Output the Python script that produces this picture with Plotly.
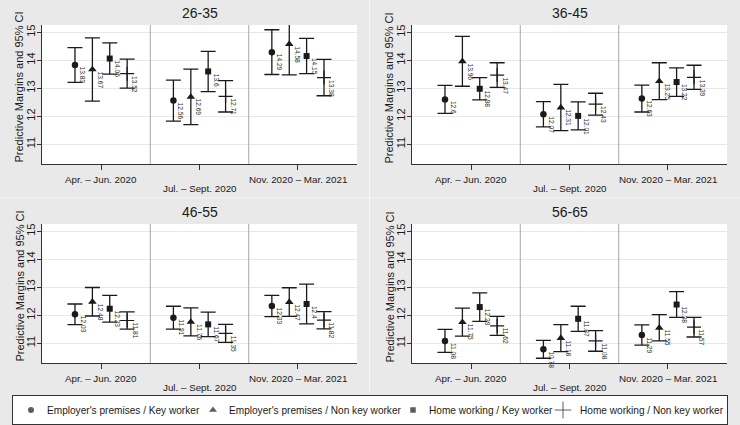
import plotly.graph_objects as go

# ---------------- data ----------------
periods = ["Apr. – Jun. 2020", "Jul. – Sept. 2020", "Nov. 2020 – Mar. 2021"]
age_groups = ["26-35", "36-45", "46-55", "56-65"]
series_names = ["Employer's premises / Key worker",
                "Employer's premises / Non key worker",
                "Home working / Key worker",
                "Home working / Non key worker"]
y_ticks = [11, 12, 13, 14, 15]

# values ordered: age group (26-35, 36-45, 46-55, 56-65) x period (Apr, Jul, Nov)
emp_key_margin = [13.83, 12.56, 14.29, 12.6, 12.07, 12.63, 12.03, 11.91, 12.33, 11.08, 10.78, 11.29]
emp_key_lo = [13.21, 11.82, 13.49, 12.10, 11.62, 12.15, 11.66, 11.50, 11.95, 10.67, 10.46, 10.93]
emp_key_hi = [14.45, 13.29, 15.09, 13.10, 12.52, 13.11, 12.40, 12.32, 12.71, 11.49, 11.10, 11.65]

emp_nonkey_margin = [13.67, 12.69, 14.58, 13.96, 12.31, 13.25, 12.48, 11.76, 12.47, 11.75, 11.18, 11.55]
emp_nonkey_lo = [12.54, 11.70, 13.48, 13.07, 11.48, 12.59, 11.97, 11.26, 11.96, 11.25, 10.70, 11.08]
emp_nonkey_hi = [14.80, 13.68, 15.68, 14.85, 13.14, 13.91, 12.99, 12.26, 12.98, 12.25, 11.66, 12.02]

home_key_margin = [14.06, 13.6, 14.15, 12.98, 12.01, 13.22, 12.23, 11.67, 12.4, 12.29, 11.87, 12.38]
home_key_lo = [13.50, 12.88, 13.52, 12.58, 11.51, 12.71, 11.75, 11.23, 11.69, 11.78, 11.42, 11.92]
home_key_hi = [14.62, 14.32, 14.78, 13.38, 12.51, 13.73, 12.71, 12.11, 13.11, 12.80, 12.32, 12.84]

home_nonkey_margin = [13.52, 12.71, 13.38, 13.47, 12.43, 13.39, 11.81, 11.35, 11.82, 11.62, 11.08, 11.57]
home_nonkey_lo = [13.00, 12.15, 12.73, 13.03, 12.04, 12.96, 11.50, 11.03, 11.51, 11.28, 10.71, 11.22]
home_nonkey_hi = [14.04, 13.27, 14.03, 13.91, 12.82, 13.82, 12.12, 11.67, 12.13, 11.96, 11.45, 11.92]

# ---------------- styling ----------------
W, H = 740, 425
FONT = "Liberation Sans, Arial, sans-serif"
INK = "#1a1a1a"
series_data = [
    (emp_key_margin, emp_key_lo, emp_key_hi),
    (emp_nonkey_margin, emp_nonkey_lo, emp_nonkey_hi),
    (home_key_margin, home_key_lo, home_key_hi),
    (home_nonkey_margin, home_nonkey_lo, home_nonkey_hi),
]
offsets = [-0.265, -0.088, 0.088, 0.265]
symbols = ["circle", "triangle-up", "square", "cross-thin-open"]
sizes = [6.5, 7.5, 6, 10]
line_w = [0, 0, 0, 1.2]


def px_x(p):
    return p / W


def px_y(p):
    return 1 - p / H


# panel geometry in pixels (x0, x1, ytop, ybottom)
panels = [(42, 357, 25, 164), (412, 727, 25, 164),
          (42, 357, 224, 363), (412, 727, 224, 363)]

fig = go.Figure()
annotations = []
shapes = []
layout = {}

for gi, grp in enumerate(age_groups):
    ax = "" if gi == 0 else str(gi + 1)
    xref, yref = "x" + ax, "y" + ax
    x0, x1, yt, yb = panels[gi]
    layout["xaxis" + ax] = dict(
        domain=[px_x(x0), px_x(x1)], range=[0.4, 3.6], anchor=yref,
        tickvals=[1, 2, 3], showticklabels=False, ticks="outside", ticklen=5,
        tickcolor="#333", tickwidth=1, showline=True, linecolor="#333", linewidth=1,
        showgrid=False, zeroline=False, fixedrange=True, automargin=False)
    layout["yaxis" + ax] = dict(
        domain=[px_y(yb), px_y(yt)], range=[10.29, 15.26], anchor=xref,
        tickvals=y_ticks, tickangle=-90, ticks="outside", ticklen=4,
        tickcolor="#333", tickwidth=1, showline=True, linecolor="#333", linewidth=1,
        showgrid=True, gridcolor="#e8e8e8", gridwidth=1, zeroline=False,
        tickfont=dict(size=11, color=INK, family=FONT), fixedrange=True,
        ticklabelstandoff=-2, automargin=False)

    for si, (m, lo, hi) in enumerate(series_data):
        ms = m[gi * 3:(gi + 1) * 3]
        los = lo[gi * 3:(gi + 1) * 3]
        his = hi[gi * 3:(gi + 1) * 3]
        xs = [k + 1 + offsets[si] for k in range(3)]
        fig.add_trace(go.Scatter(
            x=xs, y=ms, xaxis=xref, yaxis=yref, mode="markers",
            name=series_names[si], showlegend=False,
            marker=dict(symbol=symbols[si], size=sizes[si], color=INK,
                        line=dict(color=INK, width=line_w[si])),
            error_y=dict(type="data", symmetric=False,
                         array=[h - v for h, v in zip(his, ms)],
                         arrayminus=[v - l for v, l in zip(ms, los)],
                         color=INK, thickness=1.3, width=7.5),
        ))
        for x, v in zip(xs, ms):
            annotations.append(dict(
                x=x, y=v, xref=xref, yref=yref, text=f"{v:g}", showarrow=False,
                textangle=90, xanchor="left", yanchor="top", xshift=3.5, yshift=-1,
                font=dict(size=6.6, color="#2e2e2e", family=FONT), borderpad=0))

    # period separators
    for sx in (1.5, 2.5):
        shapes.append(dict(type="line", xref=xref, yref=yref + " domain",
                           x0=sx, x1=sx, y0=0, y1=1,
                           line=dict(color="#a8a8a8", width=1)))

    # x tick labels (alternating rows)
    for k, lab in enumerate(periods):
        annotations.append(dict(
            x=k + 1, y=px_y(yb + (24 if k == 1 else 15)), xref=xref, yref="paper",
            text=lab, showarrow=False, xanchor="center", yanchor="middle",
            font=dict(size=9.8, color=INK, family=FONT)))

    # panel title
    annotations.append(dict(
        x=px_x((x0 + x1) / 2), y=px_y(yt - 12), xref="paper", yref="paper",
        text=grp, showarrow=False, xanchor="center", yanchor="middle",
        font=dict(size=14, color=INK, family=FONT)))

    # y title
    annotations.append(dict(
        x=px_x(x0 - 23), y=px_y((yt + yb) / 2 - 7), xref="paper", yref="paper",
        text="Predictive Margins and 95% CI", showarrow=False, textangle=-90,
        xanchor="center", yanchor="middle",
        font=dict(size=11, color=INK, family=FONT)))

# faint panel separators in the graph region
shapes.append(dict(type="line", xref="paper", yref="paper", x0=px_x(369.5), x1=px_x(369.5),
                   y0=px_y(392), y1=1, line=dict(color="#f6f6f6", width=1)))
shapes.append(dict(type="line", xref="paper", yref="paper", x0=0, x1=1,
                   y0=px_y(198), y1=px_y(198), line=dict(color="#f6f6f6", width=1)))

# ---------------- legend (drawn in its own box) ----------------
lx0, lx1, ly0, ly1 = 13, 727, 396, 424
layout["xaxis5"] = dict(domain=[px_x(lx0), px_x(lx1)], range=[lx0, lx1], anchor="y5",
                        showticklabels=False, showgrid=False, zeroline=False,
                        showline=True, mirror=True, linecolor="#333", linewidth=1,
                        ticks="", fixedrange=True, automargin=False)
layout["yaxis5"] = dict(domain=[px_y(ly1), px_y(ly0)], range=[ly1, ly0], anchor="x5",
                        showticklabels=False, showgrid=False, zeroline=False,
                        showline=True, mirror=True, linecolor="#333", linewidth=1,
                        ticks="", fixedrange=True, automargin=False)
leg_marker_x = [31, 213, 413, 563]
leg_text_x = [45, 227, 427, 578]
leg_sizes = [6, 7, 5.5, 12]
fig.add_trace(go.Scatter(
    x=leg_marker_x, y=[410] * 4, xaxis="x5", yaxis="y5", mode="markers",
    showlegend=False, hoverinfo="skip",
    marker=dict(symbol=symbols, size=leg_sizes, color=INK,
                line=dict(color=INK, width=[0, 0, 0, 1]))))
for tx, name in zip(leg_text_x, series_names):
    annotations.append(dict(x=tx, y=410, xref="x5", yref="y5", text=name,
                            showarrow=False, xanchor="left", yanchor="middle",
                            font=dict(size=10.1, color=INK, family=FONT)))

fig.update_layout(
    width=W, height=H, margin=dict(l=0, r=0, t=0, b=0, autoexpand=False),
    paper_bgcolor="#e9e9e9", plot_bgcolor="white",
    font=dict(family=FONT, color=INK),
    showlegend=False, annotations=annotations, shapes=shapes,
    **layout)

fig.write_html(
    "out.html",
    config={"displayModeBar": False, "staticPlot": True},
    post_script="document.body.style.margin='0';document.body.style.padding='0';"
                "document.body.style.overflow='hidden';")
